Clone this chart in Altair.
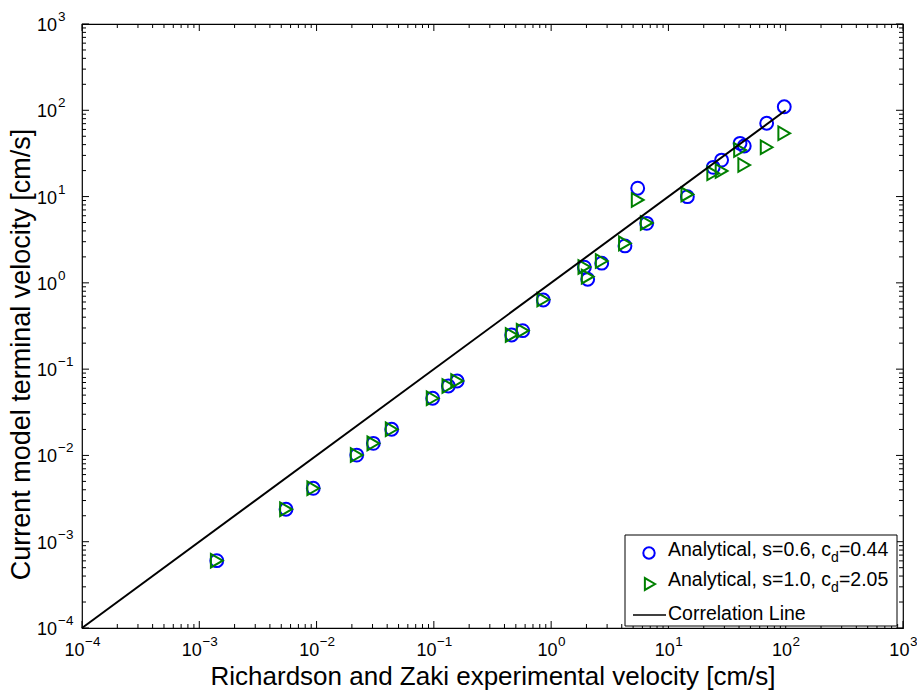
import altair as alt
import pandas as pd

# Richardson & Zaki experimental settling velocities [cm/s]
rz_velocity = [1.41e-3, 5.49e-3, 9.37e-3, 0.0220, 0.0305, 0.0437, 0.0977, 0.133, 0.158,
               0.461, 0.572, 0.857, 1.92, 2.05, 2.70, 4.26, 5.47, 6.53, 14.5, 24.1,
               28.4, 40.8, 44.3, 68.8, 97.2]
# current model, s = 0.6, c_d = 0.44
model_s06 = [6.03e-4, 2.38e-3, 4.16e-3, 0.0101, 0.0138, 0.0201, 0.0460, 0.0638, 0.0729,
             0.249, 0.279, 0.633, 1.52, 1.10, 1.69, 2.68, 12.5, 4.90, 9.97, 21.8,
             26.5, 41.4, 38.6, 70.7, 110.0]
# current model, s = 1.0, c_d = 2.05
model_s10 = [6.03e-4, 2.38e-3, 4.16e-3, 0.0101, 0.0138, 0.0201, 0.0460, 0.0638, 0.0729,
             0.249, 0.279, 0.640, 1.53, 1.18, 1.79, 2.87, 9.13, 4.95, 10.6, 18.6,
             19.8, 34.7, 23.2, 37.3, 54.1]
# 1:1 correlation line
corr_x = [1e-4, 1e2]
# decades shown on both log axes, and minor tick multipliers
decades = [-4, -3, -2, -1, 0, 1, 2, 3]
minor_mult = [2, 3, 4, 5, 6, 7, 8, 9]

legend_labels = [("Analytical, s=0.6, c", "d", "=0.44"),
                 ("Analytical, s=1.0, c", "d", "=2.05")]
legend_line_label = "Correlation Line"

FONT = "Liberation Sans"
W, H = 821, 604
BLUE, GREEN = "#0000ff", "#008000"

# Arial / Liberation Sans advance widths (per 1000 em) for laying out legend text
ADV = {" ": 278, ",": 278, ".": 278, "=": 584, "A": 667, "C": 722, "L": 556,
       "a": 556, "c": 500, "d": 556, "e": 556, "i": 222, "l": 222, "n": 556,
       "o": 556, "r": 333, "s": 500, "t": 278, "y": 500}
for ch in "0123456789":
    ADV[ch] = 556


def text_width(s, size):
    return sum(ADV.get(ch, 556) for ch in s) * size / 1000.0


xs = alt.Scale(type="log", domain=[1e-4, 1e3], nice=False)
ys = alt.Scale(type="log", domain=[1e-4, 1e3], nice=False)

x_axis = alt.Axis(title="Richardson and Zaki experimental velocity [cm/s]", labels=False,
                  ticks=False, domain=False, grid=False, titleFont=FONT, titleFontSize=26,
                  titleFontWeight="normal", titleColor="black", titleY=48,
                  titleBaseline="middle")
y_axis = alt.Axis(title="Current model terminal velocity [cm/s]", labels=False,
                  ticks=False, domain=False, grid=False, titleFont=FONT, titleFontSize=27,
                  titleFontWeight="normal", titleColor="black", titleX=-61, titleY=330,
                  titleBaseline="middle")

pts = pd.DataFrame({"rz": rz_velocity, "s06": model_s06, "s10": model_s10})
line_df = pd.DataFrame({"x": corr_x, "y": corr_x})
major = pd.DataFrame({"v": [10.0 ** e for e in decades]})
minor = pd.DataFrame({"v": [m * 10.0 ** e for e in decades[:-1] for m in minor_mult]})
labels = pd.DataFrame({
    "v": [10.0 ** e for e in decades],
    "base": ["10"] * len(decades),
    "exp": [str(e).replace("-", "\u2212") for e in decades],
    "neg": [e < 0 for e in decades],
})
one = pd.DataFrame({"k": [0]})

circles = alt.Chart(pts).mark_point(shape="circle", filled=False, color=BLUE, size=165,
                                    strokeWidth=2, opacity=1).encode(
    x=alt.X("rz:Q", scale=xs, axis=x_axis), y=alt.Y("s06:Q", scale=ys, axis=y_axis))
triangles = alt.Chart(pts).mark_point(shape="triangle-right", filled=False, color=GREEN,
                                      size=185, strokeWidth=2, opacity=1).encode(
    x=alt.X("rz:Q", scale=xs, axis=x_axis), y=alt.Y("s10:Q", scale=ys, axis=y_axis))
corr = alt.Chart(line_df).mark_line(color="black", strokeWidth=2).encode(
    x=alt.X("x:Q", scale=xs, axis=x_axis), y=alt.Y("y:Q", scale=ys, axis=y_axis))


def xticks(df, length):
    xe = alt.X("v:Q", scale=xs, axis=x_axis)
    bot = alt.Chart(df).mark_rule(color="black", strokeWidth=1).encode(
        x=xe, y=alt.value(H), y2=alt.value(H - length))
    top = alt.Chart(df).mark_rule(color="black", strokeWidth=1).encode(
        x=xe, y=alt.value(0), y2=alt.value(length))
    return [bot, top]


def yticks(df, length):
    ye = alt.Y("v:Q", scale=ys, axis=y_axis)
    lft = alt.Chart(df).mark_rule(color="black", strokeWidth=1).encode(
        y=ye, x=alt.value(0), x2=alt.value(length))
    rgt = alt.Chart(df).mark_rule(color="black", strokeWidth=1).encode(
        y=ye, x=alt.value(W), x2=alt.value(W - length))
    return [lft, rgt]


ticks = xticks(major, 7) + xticks(minor, 4) + yticks(major, 7) + yticks(minor, 4)

BASE_FS, EXP_FS = 18, 13.5
tick_text = []
for neg, shift in [(True, 2.6), (False, 6.4)]:
    sub = alt.Chart(labels).transform_filter(alt.datum.neg == neg)
    tick_text.append(sub.mark_text(align="right", baseline="middle", font=FONT,
                                   fontSize=BASE_FS, color="black", dx=shift).encode(
        x=alt.X("v:Q", scale=xs, axis=x_axis), y=alt.value(H + 23), text="base:N"))
    tick_text.append(sub.mark_text(align="left", baseline="middle", font=FONT,
                                   fontSize=EXP_FS, color="black", dx=shift + 0.5).encode(
        x=alt.X("v:Q", scale=xs, axis=x_axis), y=alt.value(H + 14), text="exp:N"))
tick_text.append(alt.Chart(labels).mark_text(align="right", baseline="middle", font=FONT,
                                             fontSize=BASE_FS, color="black", dy=2).encode(
    y=alt.Y("v:Q", scale=ys, axis=y_axis), x=alt.value(-25), text="base:N"))
tick_text.append(alt.Chart(labels).mark_text(align="left", baseline="middle", font=FONT,
                                             fontSize=EXP_FS, color="black", dy=-7).encode(
    y=alt.Y("v:Q", scale=ys, axis=y_axis), x=alt.value(-24), text="exp:N"))

# legend box, drawn in pixel space inside the lower right corner
LX0, LX1, LY0, LY1 = 543, 815, 511, 602
LEG_FS, SUB_FS = 19.5, 14
TX = 586
rows_y = [526, 556, 590]
legend = [alt.Chart(one).mark_rect(fill="white", stroke="black", strokeWidth=1).encode(
    x=alt.value(LX0), x2=alt.value(LX1), y=alt.value(LY0), y2=alt.value(LY1))]
legend.append(alt.Chart(one).mark_point(shape="circle", filled=False, color=BLUE, size=130,
                                        strokeWidth=2, opacity=1).encode(
    x=alt.value(567), y=alt.value(rows_y[0] + 3)))
legend.append(alt.Chart(one).mark_point(shape="triangle-right", filled=False, color=GREEN,
                                        size=140, strokeWidth=2, opacity=1).encode(
    x=alt.value(568), y=alt.value(rows_y[1] + 4)))
legend.append(alt.Chart(one).mark_rule(color="black", strokeWidth=1.5).encode(
    x=alt.value(551), x2=alt.value(584), y=alt.value(rows_y[2] + 1)))
for (head, sub_txt, tail), ry in zip(legend_labels, rows_y):
    x_sub = TX + text_width(head, LEG_FS)
    x_tail = x_sub + text_width(sub_txt, SUB_FS)
    for txt, xpos, fs, yy in [(head, TX, LEG_FS, ry), (sub_txt, x_sub, SUB_FS, ry + 8),
                              (tail, x_tail, LEG_FS, ry)]:
        legend.append(alt.Chart(one).mark_text(align="left", baseline="middle", font=FONT,
                                               fontSize=fs, color="black", text=txt).encode(
            x=alt.value(xpos), y=alt.value(yy)))
legend.append(alt.Chart(one).mark_text(align="left", baseline="middle", font=FONT,
                                       fontSize=LEG_FS, color="black",
                                       text=legend_line_label).encode(
    x=alt.value(TX), y=alt.value(rows_y[2])))

chart = alt.layer(circles, triangles, corr, *ticks, *tick_text, *legend).properties(
    width=W, height=H,
    autosize=alt.AutoSizeParams(type="none"),
    padding={"left": 82, "top": 24, "right": 14, "bottom": 65},
    background="white",
).configure_view(stroke="black", strokeWidth=1.2)

chart.save("out.html", embed_options={"renderer": "svg", "actions": False})
